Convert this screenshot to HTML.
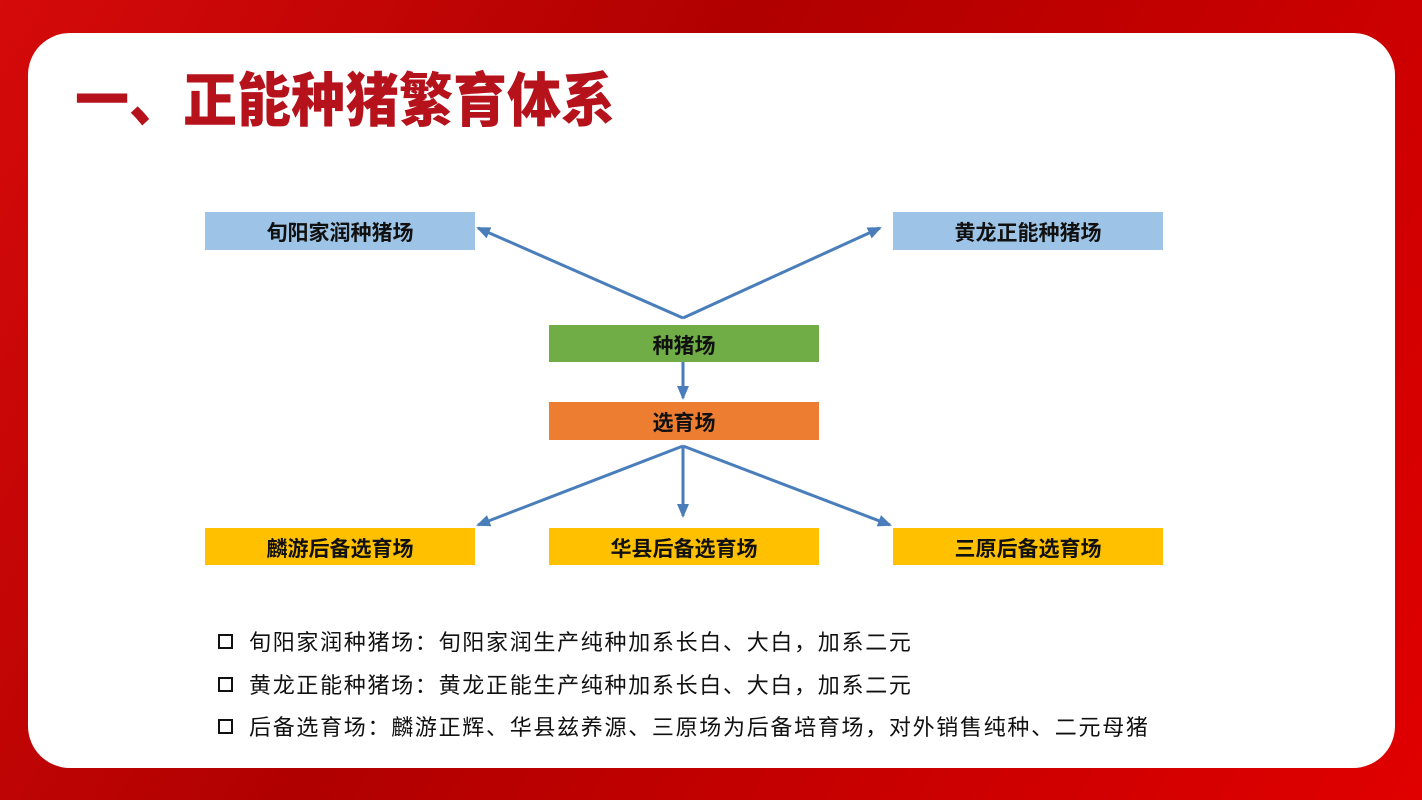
<!DOCTYPE html>
<html><head><meta charset="utf-8"><style>
body{margin:0;width:1422px;height:800px;overflow:hidden;background:linear-gradient(120deg,#d50a0a,#b00000 40%,#c80000 70%,#e00000);font-family:"Liberation Sans","Noto Sans CJK SC",sans-serif;position:relative}
.panel{position:absolute;left:28px;top:33px;width:1367px;height:735px;background:#fff;border-radius:42px}
.t{position:absolute;left:75px;top:67px;font-size:54px;font-weight:900;color:#b5121b;letter-spacing:0px;white-space:nowrap;line-height:64px;transform:scaleY(1.08);transform-origin:left top}
.b{position:absolute;width:270px;height:38px;line-height:44px;text-align:center;font-weight:bold;font-size:21px;color:#111}
.l{position:absolute;left:218px;font-size:22px;letter-spacing:1.7px;color:#111;white-space:nowrap;line-height:26px}
.l span{display:inline-block;width:11px;height:11px;border:2px solid #111;margin-right:16px;vertical-align:1px}
</style></head><body>
<div class="panel"></div>
<div class="t">一、正能种猪繁育体系</div>
<div class="b" style="left:205px;top:212px;background:#9dc3e6">旬阳家润种猪场</div>
<div class="b" style="left:893px;top:212px;background:#9dc3e6">黄龙正能种猪场</div>
<div class="b" style="left:549px;top:325px;height:37px;background:#70ad47">种猪场</div>
<div class="b" style="left:549px;top:402px;background:#ed7d31">选育场</div>
<div class="b" style="left:205px;top:528px;height:37px;background:#ffc000">麟游后备选育场</div>
<div class="b" style="left:549px;top:528px;height:37px;background:#ffc000">华县后备选育场</div>
<div class="b" style="left:893px;top:528px;height:37px;background:#ffc000">三原后备选育场</div>
<svg width="1422" height="800" style="position:absolute;left:0;top:0">
<defs><marker id="a" markerWidth="14" markerHeight="12" refX="12" refY="6" orient="auto" markerUnits="userSpaceOnUse"><path d="M0,0 L14,6 L0,12 z" fill="#4a7ebb"/></marker></defs>
<g stroke="#4a7ebb" stroke-width="3" fill="none" marker-end="url(#a)">
<line x1="683" y1="318" x2="478" y2="228"/>
<line x1="683" y1="318" x2="880" y2="228"/>
<line x1="683" y1="362" x2="683" y2="398"/>
<line x1="683" y1="446" x2="478" y2="525"/>
<line x1="683" y1="446" x2="683" y2="516"/>
<line x1="683" y1="446" x2="890" y2="525"/>
</g></svg>
<div class="l" style="top:630px"><span></span>旬阳家润种猪场：旬阳家润生产纯种加系长白、大白，加系二元</div>
<div class="l" style="top:673px"><span></span>黄龙正能种猪场：黄龙正能生产纯种加系长白、大白，加系二元</div>
<div class="l" style="top:715px"><span></span>后备选育场：麟游正辉、华县兹养源、三原场为后备培育场，对外销售纯种、二元母猪</div>
</body></html>
